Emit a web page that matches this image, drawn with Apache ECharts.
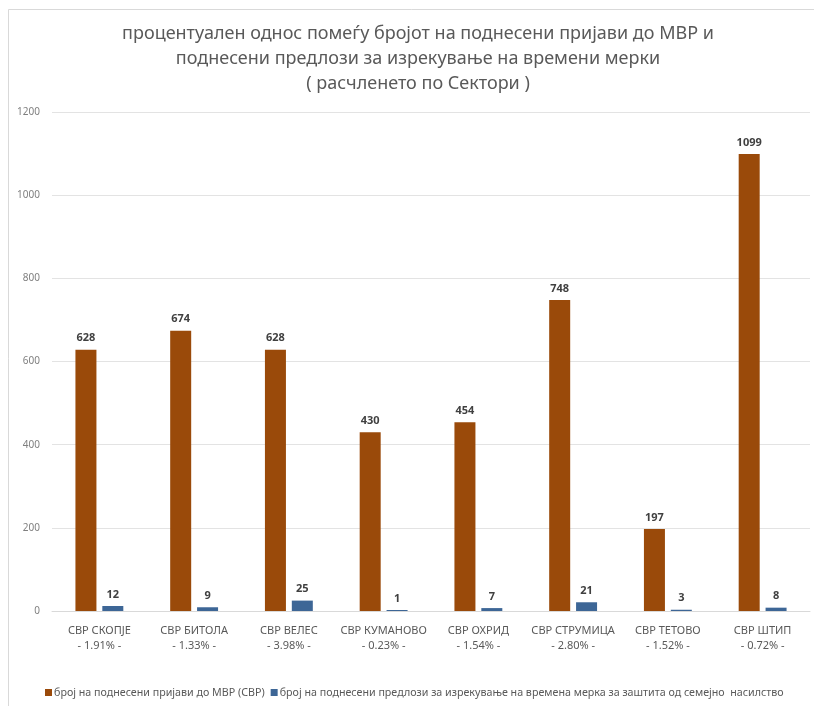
<!DOCTYPE html>
<html>
<head>
<meta charset="utf-8">
<script src="https://cdn.jsdelivr.net/npm/echarts@6/dist/echarts.min.js"></script>
<style>
  html, body { margin: 0; padding: 0; background: #fff; }
  #chart { width: 814px; height: 706px; }
</style>
</head>
<body>
<div id="chart"></div>
<script>
// Sectors (СВР) and their share of proposals among filed reports
const categories = ['СВР СКОПЈЕ', 'СВР БИТОЛА', 'СВР ВЕЛЕС', 'СВР КУМАНОВО', 'СВР ОХРИД', 'СВР СТРУМИЦА', 'СВР ТЕТОВО', 'СВР ШТИП'];
const percentLabels = ['1.91%', '1.33%', '3.98%', '0.23%', '1.54%', '2.80%', '1.52%', '0.72%'];
// Filed reports to MВР
const reports = [628, 674, 628, 430, 454, 748, 197, 1099];
// Filed proposals for temporary protection measures
const proposals = [12, 9, 25, 1, 7, 21, 3, 8];
const yTicks = [0, 200, 400, 600, 800, 1000, 1200];

const seriesNames = [
  'број на поднесени пријави до МВР (СВР)',
  'број на поднесени предлози за изрекување на времена мерка за заштита од семејно  насилство'
];

const axisLabels = categories.map((c, i) => c + '\n- ' + percentLabels[i] + ' -');

const FONT = '"Noto Sans", sans-serif';
const chart = echarts.init(document.getElementById('chart'), null, { renderer: 'canvas' });

const valueLabel = {
  show: true,
  position: 'top',
  distance: 6,
  color: '#404040',
  fontWeight: 'bold',
  fontSize: 11,
  fontFamily: FONT
};

chart.setOption({
  backgroundColor: '#ffffff',
  animation: false,
  graphic: [{
    type: 'rect',
    shape: { x: 8.5, y: 9.5, width: 900, height: 900 },
    style: { fill: 'none', stroke: '#d9d9d9', lineWidth: 1 },
    silent: true
  }],
  title: {
    text: 'процентуален однос помеѓу бројот на поднесени пријави до МВР и\nподнесени предлози за изрекување на времени мерки\n( расчленето по Сектори )',
    left: 413,
    textAlign: 'center',
    top: 16,
    textStyle: {
      fontFamily: FONT,
      fontSize: 18,
      fontWeight: 'normal',
      color: '#595959',
      lineHeight: 25
    }
  },
  legend: {
    left: 40,
    top: 682,
    width: 770,
    itemWidth: 7,
    itemHeight: 7,
    itemGap: 6,
    icon: 'rect',
    textStyle: { fontFamily: FONT, fontSize: 10.7, color: '#595959', padding: [0, 0, 0, -3] },
    data: seriesNames
  },
  grid: { left: 52, right: 4, top: 112, bottom: 95 },
  xAxis: {
    type: 'category',
    data: axisLabels,
    axisLine: { lineStyle: { color: '#d9d9d9' } },
    axisTick: { show: false },
    axisLabel: {
      margin: 12,
      fontFamily: FONT,
      fontSize: 11,
      lineHeight: 15,
      color: '#595959',
      interval: 0
    }
  },
  yAxis: {
    type: 'value',
    min: yTicks[0],
    max: yTicks[yTicks.length - 1],
    interval: yTicks[1] - yTicks[0],
    axisLine: { show: false },
    axisTick: { show: false },
    splitLine: { lineStyle: { color: '#e3e3e3' } },
    axisLabel: {
      margin: 12,
      fontFamily: FONT,
      fontSize: 10,
      color: '#7f7f7f',
      formatter: (v) => String(v)
    }
  },
  series: [
    {
      name: seriesNames[0],
      type: 'bar',
      data: reports,
      barWidth: 21,
      barGap: '28%',
      itemStyle: { color: '#9a4a0a' },
      label: valueLabel
    },
    {
      name: seriesNames[1],
      type: 'bar',
      data: proposals,
      barWidth: 21,
      barMinHeight: 1,
      itemStyle: { color: '#3d6696' },
      label: valueLabel
    }
  ]
});
</script>
</body>
</html>
